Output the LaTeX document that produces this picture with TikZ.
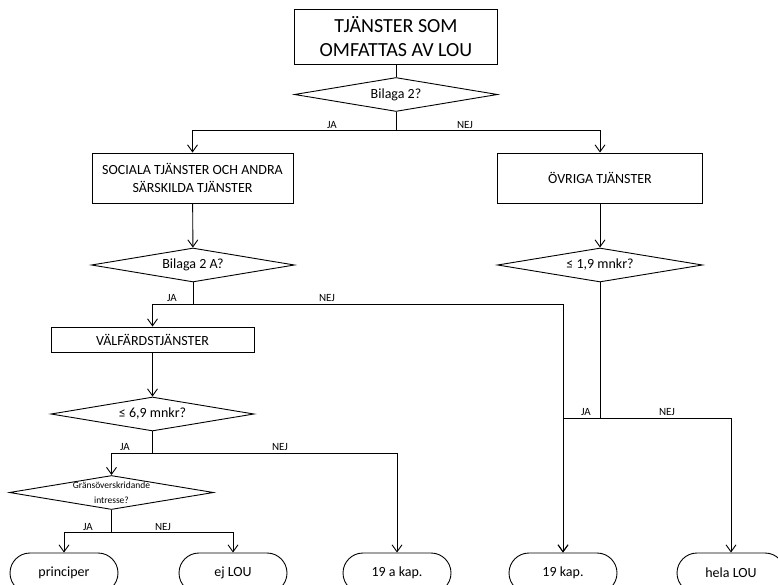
\documentclass[tikz,border=0pt]{standalone}
\usepackage{fontspec}
\setmainfont{Carlito}
\usetikzlibrary{arrows.meta,shapes.geometric}
\tikzset{
  box/.style={draw, line width=0.9pt, align=center, inner sep=2pt,
              font=\fontsize{14}{18}\selectfont},
  decision/.style={draw, diamond, aspect=6, inner sep=0pt, line width=0.9pt,
              minimum width=203pt, minimum height=34pt, align=center,
              font=\fontsize{14}{16}\selectfont},
  terminal/.style={draw, rounded corners=20pt, line width=0.9pt,
              minimum width=108pt, minimum height=40pt,
              font=\fontsize{14}{16}\selectfont},
  flow/.style={-{Straight Barb[length=7pt,width=10pt]}, line width=0.9pt},
  link/.style={line width=0.9pt},
  answer/.style={font=\fontsize{11}{12}\selectfont},
}
\begin{document}
\begin{tikzpicture}[x=1pt, y=-1pt]
  \useasboundingbox (0,0) rectangle (778,585);
  \clip (0,0) rectangle (778,585);
  % boxes and questions
  \node[box, minimum width=203pt, minimum height=55pt,
        font=\fontsize{20}{24}\selectfont] (lou) at (396,37) {TJÄNSTER SOM\\OMFATTAS AV LOU};
  \node[decision] (bil2) at (396,94.5) {Bilaga 2?};
  \node[box, minimum width=201pt, minimum height=50pt] (social) at (192.5,178) {SOCIALA TJÄNSTER OCH ANDRA\\SÄRSKILDA TJÄNSTER};
  \node[box, minimum width=205pt, minimum height=50pt] (ovriga) at (600,178) {ÖVRIGA TJÄNSTER};
  \node[decision] (bil2a) at (193,265) {Bilaga 2 A?};
  \node[decision, minimum width=205pt] (mnkr19) at (600,265) {≤ 1,9 mnkr?};
  \node[box, minimum width=203pt, minimum height=25pt] (valfard) at (152.5,339.5) {VÄLFÄRDSTJÄNSTER};
  \node[decision] (mnkr69) at (152.5,414) {≤ 6,9 mnkr?};
  \node[decision, minimum width=202pt, minimum height=33pt,
        font=\fontsize{9.5}{14.5}\selectfont] (grans) at (111.5,492.5) {Gränsöverskridande\\intresse?};
  % end points
  \node[terminal] (princip) at (64,573) {principer};
  \node[terminal] (ejlou) at (233,573) {ej LOU};
  \node[terminal] (kap19a) at (397,573) {19 a kap.};
  \node[terminal] (kap19) at (563,573) {19 kap.};
  \node[terminal] (hela) at (731,573) {hela LOU};
  % splits
  \coordinate (s1) at (396,130);
  \coordinate (s2) at (193,304);
  \coordinate (s3) at (600,418);
  \coordinate (s4) at (152.5,453);
  \coordinate (s5) at (111.5,532);
  \draw[link] (lou) -- (bil2);
  \draw[link] (bil2) -- (s1);
  \draw[flow] (s1) -| (social);
  \draw[flow] (s1) -| (ovriga);
  \draw[flow] (social) -- (bil2a);
  \draw[flow] (ovriga) -- (mnkr19);
  \draw[link] (bil2a) -- (s2);
  \draw[flow] (s2) -| (valfard);
  \draw[flow] (s2) -| (kap19);
  \draw[link] (mnkr19) -- (s3);
  \draw[flow] (s3) -| (kap19);
  \draw[flow] (s3) -| (hela);
  \draw[flow] (valfard) -- (mnkr69);
  \draw[link] (mnkr69) -- (s4);
  \draw[flow] (s4) -| (grans);
  \draw[flow] (s4) -| (kap19a);
  \draw[link] (grans) -- (s5);
  \draw[flow] (s5) -| (princip);
  \draw[flow] (s5) -| (ejlou);
  % answers
  \node[answer] at (332,125) {JA};
  \node[answer] at (465,125) {NEJ};
  \node[answer] at (172,298) {JA};
  \node[answer] at (327,298) {NEJ};
  \node[answer] at (586,412) {JA};
  \node[answer] at (667,412) {NEJ};
  \node[answer] at (125,447) {JA};
  \node[answer] at (280,447) {NEJ};
  \node[answer] at (88,527) {JA};
  \node[answer] at (163,527) {NEJ};
\end{tikzpicture}
\end{document}
